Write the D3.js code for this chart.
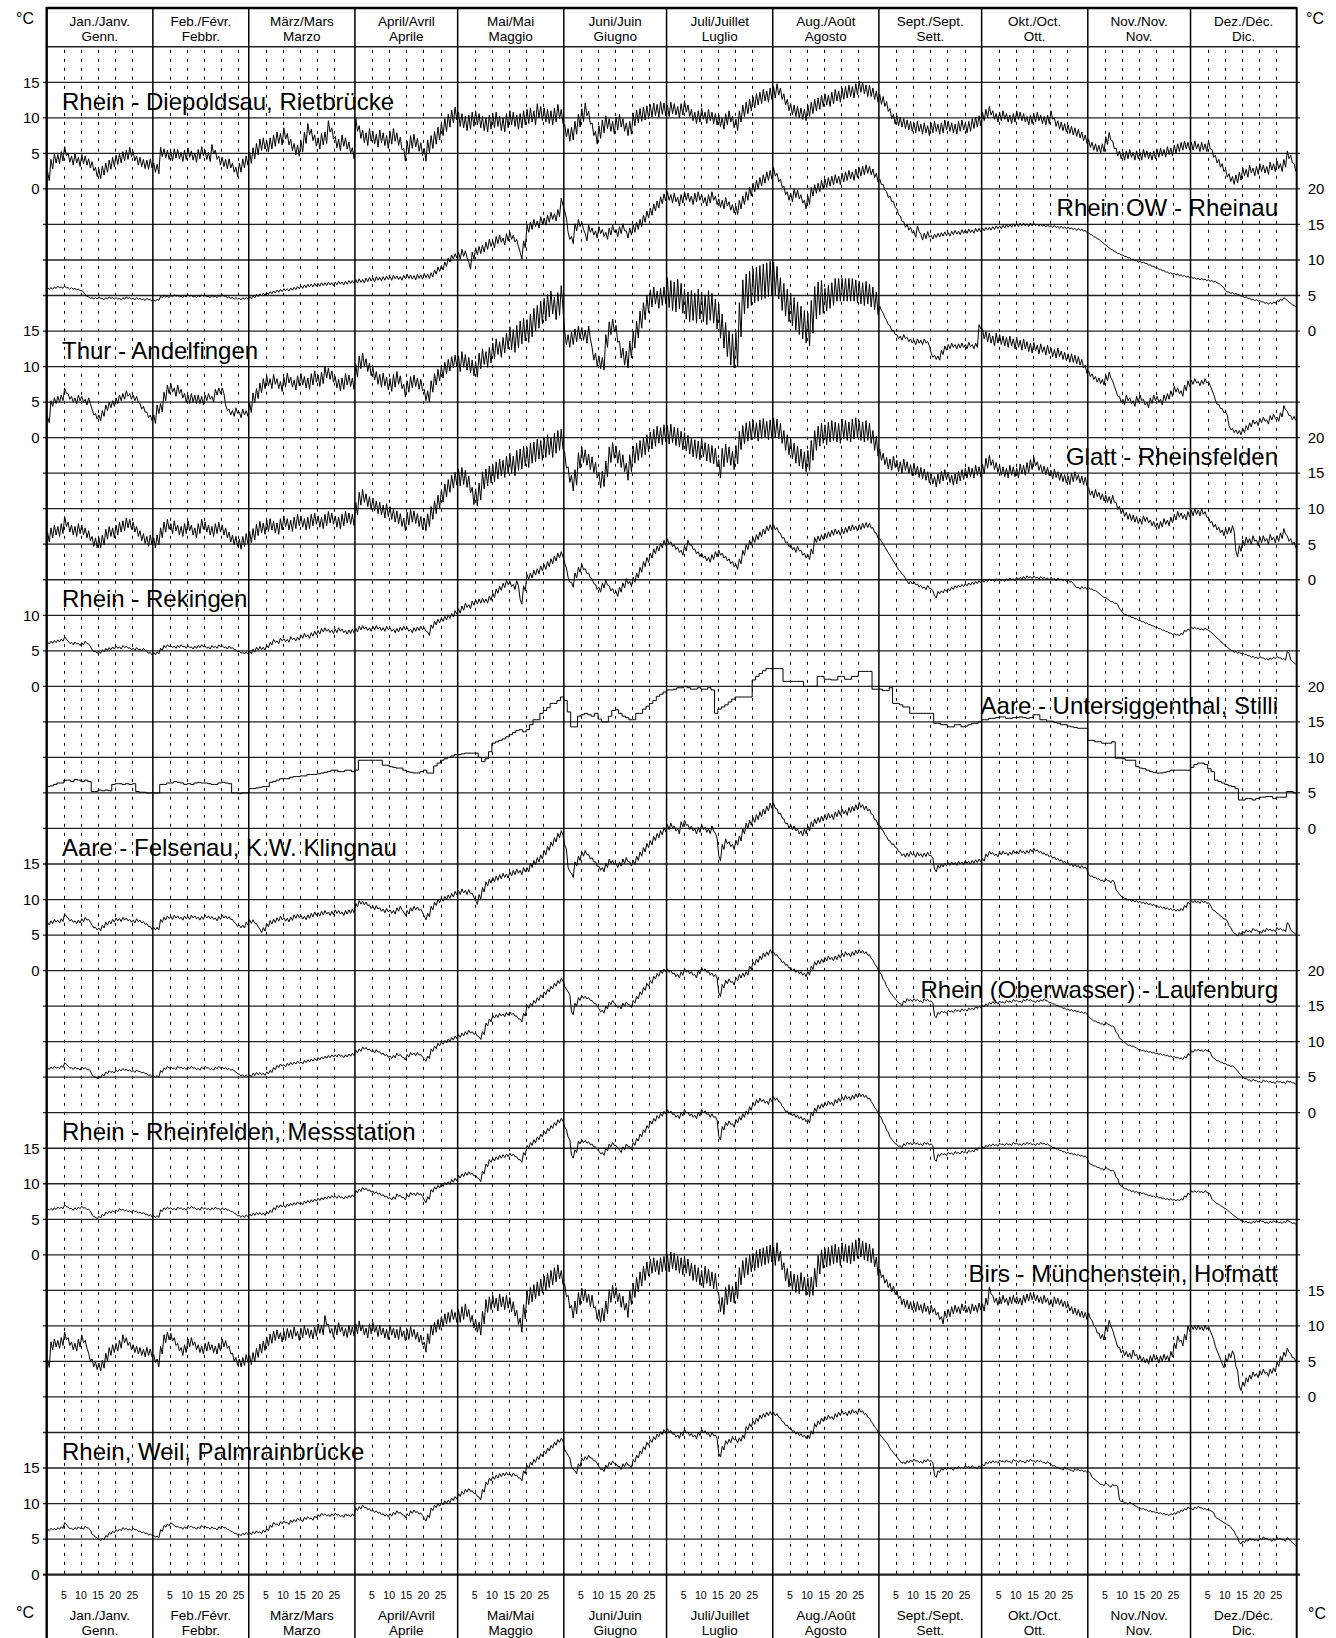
<!DOCTYPE html>
<html><head><meta charset="utf-8">
<script src="https://cdn.jsdelivr.net/npm/d3@7"></script>
<style>
body{margin:0;background:#fff}
svg{display:block}
text{font-family:"Liberation Sans",Arial,Helvetica,sans-serif;fill:#000}
</style>
</head><body>
<svg id="c" width="1336" height="1638"></svg>
<script>
// ---------- categories / labels ----------
const monthNamesTop = ["Jan./Janv.","Feb./Févr.","März/Mars","April/Avril","Mai/Mai","Juni/Juin","Juli/Juillet","Aug./Août","Sept./Sept.","Okt./Oct.","Nov./Nov.","Dez./Déc."];
const monthNamesIt = ["Genn.","Febbr.","Marzo","Aprile","Maggio","Giugno","Luglio","Agosto","Sett.","Ott.","Nov.","Dic."];
const monthDays = [31,28,31,30,31,30,31,31,30,31,30,31];
const dayTicks = [5,10,15,20,25];
const unitLabel = "°C";
const stationNames = [
  "Rhein - Diepoldsau, Rietbrücke","Rhein OW - Rheinau","Thur - Andelfingen","Glatt - Rheinsfelden",
  "Rhein - Rekingen","Aare - Untersiggenthal, Stilli","Aare - Felsenau, K.W. Klingnau",
  "Rhein (Oberwasser) - Laufenburg","Rhein - Rheinfelden, Messstation","Birs - Münchenstein, Hofmatt",
  "Rhein, Weil, Palmrainbrücke"];
const ticksLeft15 = [0,5,10,15];
const ticksRight20 = [0,5,10,15,20];
const ticksLeft10 = [0,5,10];

// ---------- daily mean water temperature (°C), one array per month ----------
const diepoldsau = [
[1.8,3.5,4.3,4.2,4.6,5.3,4.4,4.0,4.3,3.8,4.2,4.0,3.6,3.2,2.4,2.1,2.6,3.0,3.4,3.8,4.1,4.3,4.6,4.8,5.2,4.6,4.0,3.8,3.5,3.4,3.6],
[3.0,2.8,5.2,5.0,4.8,4.6,5.0,4.9,4.5,4.8,5.1,4.7,4.4,4.9,5.3,4.8,4.5,5.6,4.8,4.0,3.8,3.5,3.6,3.0,2.4,3.0,3.6,4.0],
[4.4,5.0,5.6,6.2,6.4,6.0,6.4,6.8,7.2,7.0,7.8,7.0,6.2,5.6,5.4,6.0,7.2,8.4,7.6,6.8,6.4,7.0,7.2,8.8,7.8,6.6,6.2,6.8,6.4,5.8,5.0],
[9.0,8.0,7.4,7.0,7.6,7.2,6.8,7.4,7.0,6.6,7.2,7.6,7.0,6.4,4.8,5.8,6.6,6.8,6.2,5.6,4.8,6.0,6.6,7.2,7.8,8.4,9.0,9.6,10.2,10.6],
[9.8,9.6,9.2,9.4,9.8,10.0,9.6,9.2,9.0,9.4,9.6,9.8,9.2,9.0,9.6,10.0,9.8,9.4,9.6,10.0,10.2,10.4,10.0,11.0,10.6,10.4,10.2,10.0,10.4,10.9,10.2],
[8.2,7.6,7.8,8.6,9.6,10.4,11.2,10.0,8.4,7.2,8.0,8.8,9.4,9.0,8.6,9.2,9.6,9.0,8.4,8.6,9.8,10.2,10.4,10.6,10.8,11.0,11.2,11.0,11.4,11.2],
[11.0,11.4,11.2,10.8,11.2,11.6,11.0,10.4,10.0,10.2,10.6,10.0,10.4,10.0,9.8,9.6,9.2,9.8,10.2,9.4,9.0,10.2,11.0,11.4,11.8,12.2,12.6,12.8,13.2,13.0,13.4],
[13.6,14.0,13.4,12.6,11.8,11.2,11.0,10.8,10.6,10.4,11.0,11.4,11.8,12.0,12.4,12.6,12.4,12.8,13.2,13.0,13.4,13.6,13.8,13.6,14.0,14.4,14.2,13.8,13.8,13.4,13.0],
[12.6,12.3,11.6,10.6,9.8,9.6,9.4,9.2,9.0,8.8,8.6,8.8,8.4,8.6,8.2,8.6,8.8,8.4,8.6,9.0,8.8,8.6,8.4,8.8,9.0,8.6,8.8,9.2,9.4,9.6],
[10.2,10.6,11.0,10.4,10.0,10.2,10.4,10.0,9.8,10.0,10.4,10.2,10.0,9.6,9.8,10.0,10.2,9.8,9.6,9.8,10.4,9.4,9.0,8.8,8.6,8.4,8.2,8.0,7.8,7.4,7.0],
[6.4,6.0,5.8,5.6,5.8,6.8,7.4,6.2,5.2,4.8,4.6,4.8,5.0,4.6,4.8,4.6,5.0,4.8,4.6,4.8,5.0,5.2,5.0,5.4,5.2,5.6,5.8,6.0,6.2,6.0],
[6.0,6.2,5.8,6.0,5.8,6.2,5.0,4.2,3.6,3.0,2.2,1.6,1.2,1.4,1.8,2.4,2.2,2.8,2.4,2.6,3.0,2.8,2.6,3.2,3.0,3.4,3.0,3.6,4.8,4.2,3.0]];
const rheinau = [
[6.0,6.0,6.1,6.2,6.1,6.2,6.0,6.0,5.9,5.8,5.6,5.0,4.7,4.6,4.6,4.7,4.5,4.6,4.7,4.6,4.6,4.5,4.6,4.7,4.6,4.5,4.6,4.5,4.4,4.5,4.3],
[4.3,4.4,4.8,4.9,4.8,4.9,5.0,4.9,4.8,4.9,5.0,4.9,4.8,4.9,5.0,4.9,4.8,4.9,4.8,4.9,5.0,4.8,4.7,4.6,4.6,4.5,4.6,4.6],
[4.7,4.8,5.0,5.1,5.2,5.3,5.4,5.5,5.6,5.7,5.8,5.8,5.9,6.0,6.1,6.2,6.3,6.4,6.4,6.5,6.5,6.6,6.6,6.7,6.6,6.7,6.8,6.7,6.8,6.9,6.9],
[7.0,7.1,7.0,7.2,7.3,7.2,7.4,7.3,7.4,7.5,7.4,7.6,7.5,7.4,7.6,7.7,7.6,7.5,7.7,7.6,7.8,7.7,7.9,8.3,8.7,8.9,9.4,10.0,10.4,10.6],
[10.6,11.0,10.8,9.2,10.6,11.2,11.4,11.6,12.0,12.4,12.2,12.8,13.0,12.6,13.2,13.4,13.0,12.4,10.6,12.2,14.4,14.8,15.2,15.0,15.6,15.4,15.8,16.2,16.0,16.6,18.2],
[16.4,13.4,12.8,14.6,15.2,14.8,13.2,14.4,14.0,13.6,14.2,13.8,13.4,14.0,14.4,13.8,14.2,14.6,13.6,14.0,14.4,14.8,15.2,15.8,16.4,16.8,17.4,17.8,18.4,18.8],
[19.0,18.6,18.8,18.2,18.6,19.0,18.8,18.4,18.8,19.0,18.6,18.2,18.6,19.0,18.4,18.0,17.8,18.2,17.6,17.2,17.0,17.8,18.4,19.0,19.6,20.2,20.6,21.0,21.4,21.8,22.0],
[22.4,21.6,20.8,19.8,19.0,18.8,19.4,19.2,18.6,17.8,18.4,19.6,20.0,20.2,20.6,20.8,21.0,21.2,21.4,21.2,21.6,21.8,22.0,21.8,22.2,22.4,22.6,22.8,22.6,22.2,21.6],
[21.0,20.2,19.2,18.6,17.8,16.8,15.8,15.0,14.6,14.2,13.6,14.4,13.2,13.4,13.6,13.2,13.4,13.5,13.6,13.7,13.6,13.8,13.9,13.8,14.0,14.0,14.1,14.0,14.2,14.2],
[14.3,14.4,14.4,14.5,14.6,14.6,14.7,14.8,14.8,14.9,14.9,15.0,15.0,14.9,15.0,15.0,14.9,14.9,14.8,14.8,14.7,14.7,14.6,14.6,14.5,14.5,14.4,14.3,14.3,14.2,14.0],
[13.7,13.4,13.1,12.8,12.4,12.0,11.6,11.3,11.0,10.8,10.6,10.4,10.2,10.0,9.8,9.7,9.6,9.4,9.2,9.0,8.8,8.6,8.4,8.2,8.1,8.0,7.9,7.8,7.7,7.6],
[7.5,7.4,7.3,7.3,7.2,7.1,7.0,6.9,6.6,6.2,5.6,5.4,5.3,5.2,5.0,4.8,4.7,4.5,4.4,4.3,4.2,4.0,3.9,3.9,4.0,4.2,4.4,4.6,4.2,3.8,3.5]];
const thur = [
[2.5,4.8,5.2,5.4,5.6,6.6,5.8,5.4,5.2,5.6,5.4,5.0,5.2,3.6,3.0,2.8,3.4,4.2,4.6,4.8,5.2,5.6,5.8,6.2,5.8,5.6,5.4,4.4,4.0,3.2,2.8],
[2.6,4.0,4.2,5.8,6.8,7.0,6.4,6.8,6.2,5.6,5.4,5.6,5.4,5.4,5.2,5.6,5.8,5.4,6.4,6.6,6.6,4.2,3.6,3.4,3.8,3.2,3.6,3.4],
[4.2,5.6,6.2,7.0,7.6,8.0,7.6,8.2,7.6,7.2,7.8,8.4,7.8,7.4,8.0,8.2,7.8,7.6,8.2,8.6,8.0,8.4,9.2,9.0,8.6,7.8,7.4,7.6,8.2,8.0,7.6],
[9.4,10.6,11.0,10.2,9.6,9.0,8.4,8.0,8.2,7.6,7.4,8.0,8.4,7.8,6.6,7.2,7.8,8.0,7.6,7.4,6.0,5.8,7.2,8.2,8.8,9.2,9.8,10.2,10.6,10.8],
[10.4,11.0,10.6,10.2,9.8,9.6,10.8,11.4,11.0,11.6,12.2,12.8,12.4,13.0,13.6,14.0,13.6,14.2,14.8,15.2,15.0,15.8,16.6,17.0,17.6,18.0,18.6,19.0,18.2,18.8,19.8],
[14.0,13.6,14.0,14.4,14.8,14.6,14.2,14.8,11.8,11.0,10.6,10.4,13.6,15.4,15.8,14.6,12.4,11.4,11.0,12.4,13.8,15.2,16.6,17.8,18.8,19.6,20.0,19.4,19.8,20.0],
[20.4,20.0,19.8,20.2,19.6,18.8,18.4,18.6,18.2,18.8,18.4,18.0,18.6,18.2,17.4,16.4,15.0,13.8,12.6,12.2,12.4,16.6,19.8,20.6,21.0,21.4,21.6,21.8,22.0,22.2,22.4],
[22.4,21.8,20.2,19.4,18.6,18.0,17.4,16.8,16.2,15.6,15.2,17.0,19.0,19.6,19.8,19.4,19.8,20.2,20.8,20.8,20.8,20.8,20.8,20.8,20.6,20.4,20.2,20.4,20.0,19.6,18.9],
[18.2,17.2,16.2,15.4,14.8,14.2,14.0,14.2,13.8,13.6,13.4,13.6,13.4,13.6,13.2,11.6,11.3,11.2,12.0,12.6,12.8,13.0,12.8,12.9,13.0,12.8,13.1,12.8,13.0,15.6],
[14.6,14.2,14.0,13.6,14.0,13.8,13.6,13.4,13.6,13.2,13.4,13.0,13.2,12.8,12.6,12.8,12.4,12.6,12.2,12.4,12.0,11.8,12.0,11.6,11.4,11.2,11.2,11.0,10.8,10.4,9.6],
[9.0,8.6,8.2,8.0,7.8,8.4,8.8,7.6,6.2,5.4,5.0,5.6,5.2,4.8,5.4,5.6,5.0,4.6,5.2,5.6,5.4,5.0,5.6,5.8,6.2,6.8,6.6,6.2,7.0,7.6],
[7.8,8.0,7.6,7.8,8.0,7.6,6.4,5.0,4.4,3.8,3.4,1.4,1.0,0.8,0.7,1.0,1.4,1.8,2.2,2.0,2.4,2.6,2.2,2.8,3.0,2.6,3.2,4.2,3.4,2.8,2.7]];
const glatt = [
[6.0,6.6,7.0,6.8,7.2,8.2,7.4,7.0,6.8,7.2,7.0,6.6,6.2,5.4,5.2,5.2,5.6,6.4,6.8,6.6,7.0,7.4,7.6,8.0,7.8,7.4,6.8,6.2,5.8,5.4,5.6],
[5.2,5.6,6.6,7.4,7.8,7.2,7.6,7.0,6.8,7.2,7.6,7.0,6.6,7.2,7.8,7.4,7.0,6.8,7.2,7.4,7.0,6.6,6.0,5.6,5.4,5.0,5.4,5.8],
[6.0,6.4,7.0,7.4,7.2,7.6,7.8,7.4,7.2,7.8,8.2,7.8,7.6,8.0,8.4,8.2,7.8,8.0,8.4,8.6,8.2,8.0,8.4,8.8,8.6,8.2,8.0,8.4,8.8,8.6,8.4],
[10.0,11.4,11.8,11.2,10.8,10.6,10.2,10.0,9.6,9.8,9.4,9.0,8.8,8.4,7.8,8.6,9.0,8.8,8.4,8.0,7.8,8.4,9.4,10.2,11.0,11.8,12.6,13.2,13.8,14.2],
[14.4,14.6,14.2,13.4,11.8,11.6,12.4,14.0,14.4,14.8,15.0,15.4,15.8,15.6,16.2,16.4,16.0,16.8,17.0,17.4,17.2,17.8,18.0,18.4,18.2,18.6,19.0,18.6,19.2,19.6,19.8],
[16.8,14.8,13.6,14.4,16.8,17.6,17.2,16.6,16.2,15.4,14.0,14.2,15.6,17.6,18.2,17.6,17.0,16.4,15.2,16.4,17.6,18.0,18.4,18.8,19.2,19.6,20.0,20.4,20.2,20.6],
[20.4,20.6,20.2,20.0,19.6,19.4,19.0,18.6,18.4,18.2,18.6,18.0,17.8,17.6,17.2,15.6,17.2,17.8,17.4,16.8,17.6,19.6,20.4,20.8,21.0,21.2,20.8,21.2,21.4,21.0,21.2],
[21.4,21.2,20.6,19.6,19.0,18.4,17.8,17.4,17.0,16.6,16.8,18.2,19.6,20.2,20.6,20.4,20.8,21.0,20.8,20.6,21.2,21.0,20.8,21.2,21.4,21.0,20.8,21.0,20.6,19.6,18.8],
[17.6,17.0,16.4,16.2,16.6,16.0,15.8,16.2,15.8,15.4,15.6,15.2,15.0,14.8,14.4,14.2,13.8,14.2,14.6,14.8,14.4,14.0,14.2,14.6,14.8,15.0,15.2,15.0,15.4,15.2],
[15.6,16.4,16.8,16.2,15.8,15.4,15.2,15.0,15.4,15.2,15.0,15.6,15.4,15.8,16.2,16.6,16.0,15.6,15.4,15.2,14.8,15.0,14.6,14.4,14.2,14.0,14.4,14.6,14.2,14.0,13.8],
[12.4,12.0,12.2,11.8,11.6,11.4,11.2,11.4,10.4,9.8,9.4,9.0,8.8,8.6,8.4,8.2,8.6,8.4,8.0,7.8,7.6,7.8,8.2,8.0,8.4,8.8,9.2,9.0,8.8,9.2],
[9.4,9.6,9.4,9.6,9.2,8.4,7.8,7.4,7.0,6.6,6.8,7.0,7.2,3.6,4.4,5.2,5.6,5.4,5.8,5.2,5.6,5.8,5.4,6.0,5.6,5.8,6.2,6.8,5.8,5.4,4.9]];
const rekingen = [
[6.1,6.2,6.3,6.4,6.5,6.8,6.2,6.0,6.1,5.9,6.0,6.2,5.8,5.0,4.8,4.8,5.0,5.2,5.3,5.4,5.5,5.4,5.6,5.5,5.3,5.2,5.3,5.1,5.2,4.8,4.6],
[4.6,4.7,5.2,5.6,5.7,5.6,5.5,5.6,5.7,5.5,5.6,5.4,5.5,5.6,5.7,5.5,5.4,5.6,5.5,5.7,5.6,5.4,5.5,5.3,5.0,4.8,4.7,4.7],
[4.8,5.0,5.3,5.4,5.3,5.6,6.0,6.4,6.2,6.6,6.5,6.4,6.8,6.6,6.7,7.0,7.2,7.0,7.3,7.5,7.6,7.9,8.0,7.8,7.7,7.8,8.0,7.8,7.6,7.7,7.8],
[7.9,8.2,8.3,8.1,8.0,8.2,8.3,8.1,8.0,8.2,8.0,7.8,7.9,8.1,8.2,8.0,7.8,8.0,8.1,8.2,8.0,7.4,8.4,8.9,9.2,9.4,9.6,9.8,10.0,10.4],
[10.6,11.0,11.4,11.2,11.7,11.9,12.0,12.1,12.0,12.4,12.8,13.4,13.8,14.2,14.6,14.4,14.0,14.5,11.9,13.8,15.4,15.6,16.0,16.2,16.6,16.8,17.2,17.6,18.0,18.4,18.6],
[17.0,15.0,14.3,15.6,16.4,16.8,16.2,15.6,14.8,14.0,13.6,14.2,14.6,13.8,13.4,13.0,13.6,14.2,14.8,14.4,15.0,15.6,16.4,17.2,17.8,18.4,19.0,19.4,19.8,20.2],
[20.4,20.0,19.6,19.2,18.8,19.4,20.2,19.6,19.0,18.6,18.4,18.0,17.8,18.2,18.6,18.8,18.4,18.0,17.6,17.2,16.8,17.6,18.8,19.6,20.2,20.6,21.0,21.4,21.8,22.2,22.4],
[22.4,22.0,21.2,20.6,20.0,19.6,19.2,19.4,18.8,18.4,18.2,19.0,20.6,20.8,21.0,21.2,21.4,21.6,21.8,21.6,21.8,22.0,22.2,22.4,22.2,22.4,22.6,22.7,22.6,22.0,21.2],
[20.6,19.8,19.0,18.2,17.4,16.6,16.0,15.4,14.6,14.6,14.5,14.2,14.0,13.8,14.0,13.6,12.6,13.2,13.3,13.5,13.6,13.8,14.0,14.1,14.2,14.3,14.4,14.5,14.6,14.7],
[14.8,14.9,15.0,14.9,15.0,15.0,14.9,15.0,15.1,15.0,15.2,15.2,15.3,15.4,15.3,15.4,15.2,15.3,15.2,15.1,15.2,15.0,15.1,15.0,14.9,14.8,14.6,14.0,13.8,13.9,13.8],
[13.8,13.6,13.4,13.0,12.6,12.4,12.0,11.8,11.6,10.8,10.2,10.0,9.8,9.6,9.4,9.2,9.0,8.8,8.6,8.4,8.2,8.0,7.8,7.6,7.4,7.3,7.2,7.4,7.8,8.0],
[8.2,8.2,8.1,8.0,8.1,7.8,7.4,6.9,6.5,6.0,5.6,5.2,4.9,4.8,4.7,4.6,4.4,4.2,4.1,4.0,4.1,3.9,3.8,3.9,4.0,4.1,3.9,3.8,4.8,3.6,3.2]];
const stilli = [
[5.9,6.0,6.2,6.4,6.4,6.8,6.8,6.6,6.9,6.8,6.6,6.8,6.6,5.2,5.2,5.4,5.3,5.4,5.3,6.2,6.3,6.3,6.2,6.3,6.2,6.3,5.2,5.1,5.1,5.0,5.0],
[5.0,5.0,6.2,6.2,6.4,6.4,6.6,6.5,6.4,6.2,6.3,6.2,6.4,6.5,6.4,6.4,6.3,6.2,6.2,6.4,6.5,6.4,6.3,5.0,5.0,4.9,5.0,5.0],
[5.6,5.6,5.7,5.8,5.9,5.9,6.5,6.6,6.8,7.0,7.0,7.0,7.2,7.3,7.3,7.4,7.4,7.6,7.6,7.6,7.7,7.8,7.9,8.0,8.2,8.2,8.0,8.0,8.2,8.2,8.0],
[8.2,9.6,9.6,9.6,9.6,9.6,9.6,9.6,8.9,8.9,8.7,8.6,8.5,8.5,8.2,8.0,7.9,7.8,7.8,8.0,8.2,7.8,7.8,8.8,9.2,9.6,9.8,10.0,10.2,10.4],
[10.4,10.5,10.6,10.6,10.6,10.6,10.0,9.4,9.8,10.8,12.0,12.2,12.4,12.6,12.9,13.2,13.5,13.8,13.9,13.6,13.9,14.6,15.3,15.3,16.2,16.6,17.0,17.6,17.6,18.0,18.5],
[18.0,16.4,14.3,14.3,15.8,16.0,16.2,16.0,15.8,16.2,15.4,15.0,15.0,15.8,16.6,16.7,16.2,15.8,15.6,15.3,15.3,16.2,16.2,16.8,17.2,17.6,18.0,18.6,18.9,19.2],
[19.5,19.5,19.6,19.8,19.8,20.0,19.8,19.6,19.6,19.8,19.6,19.6,19.8,19.5,16.2,16.8,17.1,17.4,17.8,18.2,18.5,18.5,18.5,18.5,18.5,20.9,21.4,21.8,22.2,22.5,22.5],
[22.5,22.5,22.5,20.7,20.7,20.7,20.7,20.7,20.7,20.0,20.0,20.0,20.0,21.4,21.4,21.0,21.0,20.9,20.9,21.4,21.4,21.0,21.0,21.4,21.4,22.1,22.1,22.1,22.1,19.6,19.6],
[19.6,19.4,19.4,19.8,17.6,17.6,17.4,17.1,17.1,16.2,16.2,16.2,16.2,16.2,16.2,16.2,14.8,14.8,14.6,14.6,14.3,14.3,14.6,14.6,14.3,14.4,14.6,14.8,14.8,15.0],
[15.3,15.3,15.5,15.5,15.6,15.7,15.7,15.5,15.5,15.6,15.6,15.7,15.6,15.5,15.6,16.0,16.0,15.3,15.3,15.1,15.1,14.9,14.8,14.6,14.6,14.4,14.3,14.2,14.1,14.1,14.1],
[12.4,12.4,12.2,12.2,12.0,12.0,12.0,12.2,9.9,9.9,9.8,9.6,9.6,9.6,8.7,8.5,8.4,8.2,8.0,7.9,7.8,7.8,7.9,8.0,8.2,8.2,8.2,8.2,8.2,8.2],
[8.6,9.0,9.2,9.2,9.0,8.4,8.0,6.8,6.6,6.4,6.2,6.0,5.9,5.6,4.0,4.0,4.2,4.2,4.0,4.2,4.4,4.4,4.5,4.5,4.2,4.4,4.4,4.4,5.2,5.2,5.0]];
const felsenau = [
[6.6,6.8,7.0,6.9,7.1,7.8,7.2,7.0,6.8,6.9,7.1,7.3,7.0,6.2,5.9,5.8,6.2,6.6,6.8,7.0,7.2,7.1,7.3,7.2,7.0,6.9,7.1,6.9,6.7,6.4,6.0],
[5.9,5.9,7.0,7.3,7.5,7.4,7.6,7.5,7.3,7.5,7.4,7.6,7.5,7.3,7.4,7.6,7.5,7.4,7.2,7.4,7.6,7.5,7.4,7.0,6.4,6.2,6.2,6.6],
[6.9,6.9,6.4,5.6,5.8,6.4,6.8,7.0,7.2,7.4,7.2,7.1,7.3,7.6,7.7,7.5,7.4,7.6,7.8,8.0,7.9,8.1,8.2,8.0,8.1,8.3,8.2,8.0,8.2,8.3,8.4],
[9.2,9.6,9.5,9.4,9.0,8.8,8.9,8.6,8.4,8.5,8.3,8.2,8.6,8.8,8.0,8.2,8.6,8.8,8.7,8.4,7.4,7.8,8.8,9.4,9.8,10.0,10.2,10.4,10.6,10.9],
[11.0,11.2,11.0,11.1,10.6,9.6,10.4,11.4,12.2,12.6,12.8,13.0,13.2,13.4,13.3,13.6,13.8,14.0,13.8,14.2,14.2,14.8,15.2,15.6,16.0,16.6,17.2,17.8,18.4,19.0,19.4],
[17.4,14.2,13.4,15.0,15.8,16.4,16.6,16.0,15.6,15.0,14.4,14.2,14.8,15.4,15.2,14.8,15.0,15.4,15.6,15.0,15.2,15.8,16.4,17.0,17.6,18.0,18.6,19.0,19.4,19.8],
[20.2,20.4,20.0,19.6,20.6,20.8,20.2,20.0,19.6,19.8,20.2,19.8,19.6,20.0,19.0,15.8,17.4,18.2,17.8,17.4,18.0,18.6,19.6,20.4,20.8,21.2,21.6,22.0,22.4,22.8,23.2],
[23.2,22.4,21.8,21.0,20.4,20.2,20.0,19.6,19.3,19.6,20.0,20.6,21.0,21.2,21.4,21.6,21.8,21.6,22.0,22.2,22.4,22.2,22.6,22.8,23.0,23.3,23.0,22.8,22.4,21.6,20.8],
[20.2,19.4,18.6,18.0,17.6,17.0,16.4,16.2,16.3,16.5,16.2,16.4,16.2,16.3,16.4,16.0,14.1,14.6,14.8,14.9,15.0,15.1,15.0,15.2,15.1,15.3,15.2,15.3,15.4,15.5],
[15.6,16.2,16.6,16.4,16.2,16.5,16.6,16.4,16.5,16.7,16.6,16.8,16.6,16.7,16.9,17.0,16.8,16.6,16.4,16.2,16.0,15.8,15.6,15.4,15.2,15.0,14.8,14.8,14.6,14.6,14.4],
[13.4,13.2,13.0,12.8,12.6,12.8,12.5,12.6,11.2,10.6,10.2,10.0,9.9,9.8,9.7,9.6,9.5,9.4,9.3,9.2,9.0,8.9,8.8,8.7,8.6,8.5,8.5,8.6,9.0,9.5],
[9.7,9.7,9.6,9.7,9.6,9.4,8.6,8.2,7.8,7.4,7.1,6.2,5.4,5.0,5.2,5.4,5.6,5.5,5.8,5.6,5.4,5.6,5.8,5.7,5.6,5.9,5.8,5.6,6.6,5.6,5.2]];
const laufenburg = [
[6.2,6.3,6.4,6.3,6.5,6.9,6.4,6.2,6.3,6.1,6.3,6.2,6.0,5.2,4.9,5.0,5.3,5.6,5.8,5.7,5.9,6.0,6.1,6.0,5.9,5.8,5.9,5.7,5.6,5.4,5.2],
[5.1,5.1,5.8,6.2,6.4,6.3,6.2,6.4,6.3,6.2,6.3,6.4,6.2,6.1,6.3,6.4,6.2,6.1,6.3,6.4,6.3,6.2,6.1,6.0,5.6,5.3,5.2,5.2],
[5.2,5.4,5.5,5.5,5.4,5.6,5.8,6.2,6.5,6.7,6.6,6.8,6.9,7.0,7.1,7.0,7.2,7.3,7.4,7.5,7.6,7.7,7.8,7.9,8.0,8.0,8.1,7.9,8.0,8.1,8.2],
[8.6,8.8,9.1,9.0,8.8,8.6,8.7,8.4,8.2,8.0,7.8,7.9,8.2,8.0,7.6,8.0,8.3,8.2,8.3,8.0,7.4,7.8,8.8,9.2,9.6,9.8,10.0,10.2,10.4,10.6],
[10.8,11.0,11.2,11.4,11.2,11.0,10.5,11.2,12.4,13.0,13.5,13.6,13.8,13.7,13.9,14.0,13.8,13.4,13.0,13.8,14.9,15.2,15.6,16.0,16.4,16.8,17.2,17.6,18.0,18.4,18.7],
[17.6,16.8,14.0,15.2,16.0,16.3,16.2,16.0,15.6,15.2,14.4,14.2,14.8,15.4,15.6,15.0,14.8,15.2,15.4,15.0,15.6,16.2,16.8,17.4,18.0,18.4,19.0,19.4,19.8,20.0],
[20.0,19.8,19.4,19.2,19.6,20.0,19.8,19.6,19.2,19.8,20.2,20.0,19.6,19.4,19.2,16.6,17.8,18.4,18.6,18.2,18.8,19.2,19.4,19.6,20.4,21.0,21.4,21.8,22.2,22.4,22.7],
[22.4,22.0,21.4,21.0,20.6,20.2,20.0,19.8,19.6,19.4,19.6,20.4,21.0,21.2,21.4,21.6,21.8,21.6,21.8,22.0,22.2,22.4,22.2,22.4,22.6,22.7,22.6,22.4,22.0,21.2,20.4],
[19.6,18.6,17.6,16.8,16.2,15.6,15.2,15.6,15.9,15.8,15.9,15.8,15.6,15.9,15.8,15.6,13.5,14.0,14.2,14.1,14.3,14.2,14.4,14.3,14.5,14.4,14.6,14.6,14.8,14.9],
[15.0,15.2,15.4,15.5,15.4,15.6,15.5,15.7,15.6,15.8,15.7,15.6,15.8,15.9,15.8,15.6,15.7,15.8,15.9,15.6,15.4,15.2,15.0,14.8,14.6,14.5,14.4,14.3,14.2,14.1,14.0],
[13.4,13.0,12.8,12.6,12.4,12.6,12.3,12.1,11.2,10.4,10.0,9.6,9.4,9.3,9.0,8.8,8.7,8.6,8.5,8.4,8.3,8.2,8.1,8.0,7.9,7.8,7.7,7.6,7.8,8.2],
[8.6,8.8,8.8,8.7,8.8,8.6,7.8,7.4,7.2,7.0,6.8,6.6,6.5,6.0,5.4,4.9,4.7,4.5,4.6,4.4,4.3,4.5,4.4,4.3,4.2,4.4,4.3,4.2,4.4,4.3,4.1]];
const rheinfelden = [
[6.4,6.4,6.5,6.6,6.6,6.9,6.6,6.4,6.5,6.6,6.7,6.5,6.3,5.5,5.2,5.3,5.6,5.9,6.0,6.1,6.2,6.4,6.3,6.2,6.1,6.2,6.0,5.9,5.8,5.6,5.5],
[5.4,5.4,6.2,6.5,6.6,6.5,6.4,6.6,6.5,6.4,6.6,6.7,6.5,6.4,6.6,6.5,6.4,6.5,6.6,6.4,6.5,6.4,6.2,6.0,5.6,5.4,5.4,5.5],
[5.6,5.7,5.8,5.8,5.7,5.9,6.1,6.5,6.8,6.9,6.8,7.0,7.1,7.2,7.3,7.2,7.4,7.5,7.6,7.7,7.8,7.9,8.0,8.1,8.2,8.1,8.2,8.0,8.1,8.2,8.3],
[8.9,9.1,9.3,9.2,9.0,8.8,8.7,8.5,8.3,8.1,7.9,8.0,8.4,8.2,7.9,8.3,8.6,8.5,8.6,8.4,7.5,8.0,9.0,9.4,9.6,9.8,10.0,10.1,10.4,10.6],
[11.0,11.2,11.4,11.5,11.3,11.0,10.5,11.6,12.6,13.2,13.4,13.6,13.8,13.9,14.0,14.1,14.0,13.6,13.2,14.2,15.2,15.6,16.0,16.4,16.8,17.2,17.6,18.0,18.4,18.8,19.0],
[17.8,16.4,13.8,14.6,15.8,16.0,15.9,15.7,15.4,15.0,14.4,14.2,14.8,15.4,15.6,15.2,14.6,15.0,15.4,15.0,15.6,16.2,16.8,17.4,18.0,18.6,19.0,19.4,19.7,20.0],
[20.2,20.0,19.6,19.4,19.8,20.2,19.8,19.6,19.4,19.8,20.2,20.0,19.6,19.6,19.2,16.4,17.8,18.4,18.6,18.2,18.8,19.2,19.6,20.0,20.6,21.2,21.6,21.8,21.6,21.4,21.8],
[22.0,21.8,21.2,20.4,20.0,19.8,19.6,19.4,19.2,19.0,18.8,19.8,20.4,20.8,21.0,21.2,21.4,21.2,21.6,21.8,22.0,22.2,22.0,22.2,22.4,22.5,22.4,22.2,21.8,21.0,20.2],
[19.4,18.4,17.4,16.4,15.8,15.4,15.2,15.5,15.7,15.6,15.7,15.6,15.5,15.7,15.6,15.5,13.3,14.0,14.2,14.1,14.3,14.2,14.4,14.3,14.5,14.4,14.6,14.6,14.8,15.0],
[15.1,15.3,15.4,15.5,15.4,15.6,15.5,15.6,15.5,15.7,15.6,15.5,15.6,15.7,15.6,15.5,15.6,15.7,15.6,15.5,15.2,15.0,14.8,14.6,14.4,14.3,14.2,14.1,14.0,13.9,13.8],
[12.9,12.6,12.4,12.2,12.0,12.2,11.9,11.8,10.8,9.8,9.4,9.2,9.0,8.9,8.8,8.7,8.6,8.4,8.3,8.2,8.1,8.0,7.9,7.8,7.8,7.7,7.7,7.8,8.2,8.6],
[8.9,8.9,8.9,8.8,8.9,8.6,7.7,7.3,7.0,6.7,6.4,6.0,5.6,5.2,4.9,4.7,4.6,4.5,4.6,4.7,4.8,4.6,4.5,4.6,4.7,4.6,4.5,4.6,4.8,4.5,4.4]];
const birs = [
[4.7,7.2,7.6,7.4,7.8,8.6,7.8,7.2,7.0,7.6,8.2,7.4,5.6,4.8,4.4,4.2,4.6,5.6,6.4,6.8,7.0,7.4,8.2,7.8,7.2,6.8,6.6,6.4,6.2,6.4,6.2],
[5.4,4.8,6.6,8.2,8.6,8.4,7.8,7.0,6.4,6.8,7.6,7.8,7.2,6.8,6.6,7.0,7.2,6.8,6.6,7.0,7.6,7.4,6.6,5.6,5.0,4.8,5.0,5.4],
[5.2,5.6,6.2,6.8,7.2,7.8,8.2,8.6,8.8,8.4,8.6,9.0,8.8,9.2,8.6,9.0,9.4,9.0,8.8,9.2,9.6,9.4,10.8,9.6,9.0,9.4,9.8,9.2,9.0,9.4,9.2],
[9.6,10.0,9.4,9.0,9.6,9.8,9.2,9.4,9.0,8.8,9.4,9.0,8.8,9.2,8.6,8.8,9.2,8.8,8.4,8.0,7.0,8.2,9.4,9.8,10.2,10.6,11.0,11.2,11.6,11.2],
[11.4,11.8,12.2,11.4,10.6,10.0,9.6,11.2,12.8,13.2,13.4,13.0,13.6,13.2,13.4,13.0,12.4,11.2,10.1,12.0,14.0,14.4,14.8,15.2,15.6,16.0,16.4,16.8,17.2,17.6,16.8],
[15.0,13.4,12.0,12.6,13.8,14.4,14.2,13.6,13.4,11.8,11.4,11.6,12.6,14.2,14.8,14.4,13.6,13.2,12.2,14.0,15.0,15.8,16.6,17.4,18.0,18.4,18.6,18.2,18.6,18.8],
[18.8,19.2,19.0,18.6,18.4,18.6,18.2,17.6,17.4,17.0,16.6,17.2,16.8,16.4,16.2,13.2,12.8,14.2,14.6,14.4,15.0,17.0,18.0,18.4,18.8,19.0,19.4,19.6,19.8,20.0,20.2],
[19.8,20.4,19.2,17.6,16.8,16.4,16.0,15.8,16.2,15.6,15.4,15.6,16.8,18.6,19.4,19.6,19.8,20.0,20.2,19.8,20.4,20.2,20.0,20.4,20.8,21.0,20.6,20.4,20.2,19.6,18.4],
[17.4,16.6,16.0,15.4,15.0,14.4,13.6,13.2,13.0,12.8,12.6,12.8,12.4,12.6,12.2,12.4,12.0,11.4,10.8,11.6,11.8,12.2,12.4,12.2,12.6,12.4,12.2,12.6,12.4,12.7],
[12.6,13.4,15.0,13.8,13.4,13.6,13.8,13.4,13.6,13.8,13.6,13.4,13.8,14.0,14.2,14.0,13.8,13.6,13.8,13.4,13.2,13.6,13.4,13.2,13.0,12.6,12.2,12.0,11.8,11.6,11.4],
[11.4,10.4,9.4,8.6,8.4,9.6,10.4,9.0,7.4,6.6,6.2,6.0,5.8,6.2,5.6,5.4,5.2,5.0,5.4,5.6,5.2,5.4,5.6,5.4,6.0,7.2,8.2,7.6,8.4,9.6],
[9.8,9.7,9.8,9.6,9.8,9.6,8.4,6.8,5.6,4.4,5.2,5.8,6.2,4.0,1.2,1.8,2.4,2.8,3.2,3.0,3.4,3.6,3.2,3.6,3.8,4.6,5.4,6.0,6.6,5.8,5.2]];
const weil = [
[6.3,6.4,6.4,6.5,6.6,7.2,6.6,6.4,6.5,6.6,6.5,6.7,6.4,5.6,5.2,4.9,5.0,5.4,5.8,6.0,6.2,6.3,6.5,6.4,6.3,6.4,6.2,6.0,5.9,5.7,5.6],
[5.4,5.3,6.2,6.8,7.0,7.2,6.8,6.7,6.5,6.6,6.8,6.7,6.5,6.6,6.8,6.7,6.5,6.6,6.4,6.6,6.7,6.5,6.2,5.9,5.7,5.6,5.7,5.8],
[5.8,5.9,6.0,5.9,6.1,6.3,6.8,7.2,7.0,7.3,7.4,7.2,7.5,7.6,7.8,7.6,7.9,8.0,7.8,8.1,8.3,8.5,8.4,8.3,8.4,8.5,8.3,8.2,8.4,8.3,8.4],
[9.2,9.4,9.6,9.3,9.1,8.9,8.8,8.6,8.4,8.3,8.4,8.6,8.8,8.6,8.2,8.4,8.8,8.9,8.7,8.5,7.7,8.2,9.2,9.6,9.8,10.0,10.2,10.3,10.6,10.8],
[11.2,11.5,11.8,11.9,11.6,11.2,10.7,11.8,12.8,13.4,13.6,13.8,14.0,14.1,14.2,14.0,14.1,13.8,13.4,14.4,15.2,15.6,16.0,16.4,16.8,17.2,17.6,18.0,18.4,18.8,19.0],
[17.4,16.6,15.0,14.4,15.4,16.2,16.4,16.6,16.2,15.8,15.0,14.7,15.2,15.6,15.8,15.4,15.0,15.4,15.6,15.2,16.0,16.6,17.2,17.8,18.4,18.8,19.2,19.6,19.9,20.2],
[20.3,20.0,19.6,19.4,19.8,20.2,19.8,19.6,19.4,19.8,20.2,20.0,19.6,19.8,19.4,16.8,17.8,18.6,18.8,19.2,18.8,19.0,19.4,20.6,21.0,21.4,21.8,22.2,22.4,22.6,22.7],
[22.6,22.4,21.8,21.2,20.8,20.4,20.0,19.8,19.6,19.4,19.4,20.0,21.0,21.4,21.8,22.0,22.2,22.0,22.4,22.6,22.8,22.6,22.8,23.0,22.8,23.1,22.8,22.4,21.8,21.0,20.3],
[19.6,19.0,18.4,17.6,17.0,16.4,15.8,15.7,15.9,16.0,16.1,15.9,15.8,16.0,16.1,15.9,13.8,14.5,14.8,14.9,15.0,14.8,15.0,15.1,15.0,15.2,15.1,15.2,15.0,15.2],
[15.4,15.7,15.8,15.9,15.8,16.0,15.9,16.0,15.8,16.1,15.9,16.0,15.8,16.0,16.1,15.9,16.0,15.9,15.7,15.8,15.4,15.2,15.0,14.8,15.0,14.8,14.6,14.8,14.7,14.6,14.5],
[14.4,13.6,13.2,12.8,12.6,12.8,12.4,12.6,12.5,10.4,10.2,10.0,10.1,9.8,9.5,9.3,9.2,9.0,8.9,8.8,8.7,8.6,8.5,8.4,8.5,8.6,8.8,9.0,9.2,9.4],
[9.2,9.4,9.5,9.3,9.2,9.1,8.8,8.0,7.7,7.4,7.1,6.8,6.2,5.4,4.4,4.6,4.8,5.0,4.9,4.8,5.0,5.2,5.0,4.8,4.9,5.1,5.0,4.8,5.1,4.6,4.2]];

// half-diurnal range (°C), per half month (1st-15th, 16th-end)
const diepoldsauSwing = [0.65,0.65,0.65,0.65,0.8,0.8,0.9,0.9,1.0,1.0,0.9,0.9,0.8,0.8,0.8,0.8,0.7,0.7,0.6,0.6,0.55,0.55,0.55,0.55];
const rheinauSwing = [0.1,0.1,0.1,0.1,0.15,0.2,0.25,0.3,0.5,0.5,0.5,0.5,0.6,0.6,0.6,0.6,0.4,0.25,0.2,0.15,0.1,0.1,0.1,0.1];
const thurSwing = [0.4,0.4,0.6,0.4,0.7,0.8,0.9,0.8,1.1,1.6,0.9,1.2,2.1,2.4,2.3,1.6,0.3,0.3,0.7,0.6,0.4,0.4,0.3,0.3];
const glattSwing = [0.7,0.7,0.7,0.7,0.8,0.8,0.9,0.9,1.2,1.4,1.1,1.2,1.3,1.3,1.4,1.4,0.8,0.7,0.7,0.6,0.5,0.4,0.4,0.4];
const rekingenSwing = [0.15,0.15,0.15,0.15,0.2,0.25,0.25,0.25,0.3,0.35,0.35,0.35,0.35,0.35,0.35,0.35,0.2,0.15,0.15,0.15,0.1,0.1,0.1,0.1];
const stilliSwing = [0,0,0,0,0,0,0,0,0,0,0,0,0,0,0,0,0,0,0,0,0,0,0,0];
const felsenauSwing = [0.2,0.2,0.2,0.2,0.25,0.25,0.25,0.25,0.3,0.3,0.3,0.3,0.35,0.35,0.35,0.35,0.25,0.2,0.2,0.2,0.15,0.15,0.15,0.15];
const laufenburgSwing = [0.12,0.12,0.12,0.12,0.15,0.15,0.18,0.18,0.2,0.2,0.2,0.2,0.25,0.25,0.25,0.25,0.15,0.12,0.12,0.12,0.1,0.1,0.1,0.1];
const rheinfeldenSwing = [0.12,0.12,0.12,0.12,0.15,0.15,0.18,0.18,0.2,0.2,0.2,0.2,0.25,0.25,0.25,0.25,0.15,0.12,0.12,0.12,0.1,0.1,0.1,0.1];
const birsSwing = [0.55,0.55,0.55,0.55,0.65,0.65,0.7,0.7,0.9,1.0,0.9,1.0,1.2,1.2,1.3,1.3,0.6,0.5,0.5,0.5,0.4,0.4,0.3,0.3];
const weilSwing = [0.12,0.12,0.12,0.12,0.15,0.15,0.18,0.18,0.2,0.2,0.2,0.2,0.25,0.25,0.25,0.25,0.15,0.12,0.12,0.12,0.1,0.1,0.1,0.1];

// ---------- layout (grid-row of zero line, axis side, label row) ----------
const stations = [
  {data: diepoldsau, swing: diepoldsauSwing, zero: 4, side: "left", ticks: ticksLeft15, labelRow: 2},
  {data: rheinau, swing: rheinauSwing, zero: 8, side: "right", ticks: ticksRight20, labelRow: 5},
  {data: thur, swing: thurSwing, zero: 11, side: "left", ticks: ticksLeft15, labelRow: 9},
  {data: glatt, swing: glattSwing, zero: 15, side: "right", ticks: ticksRight20, labelRow: 12},
  {data: rekingen, swing: rekingenSwing, zero: 18, side: "left", ticks: ticksLeft10, labelRow: 16},
  {data: stilli, swing: stilliSwing, zero: 22, side: "right", ticks: ticksRight20, labelRow: 19, step: true},
  {data: felsenau, swing: felsenauSwing, zero: 26, side: "left", ticks: ticksLeft15, labelRow: 23},
  {data: laufenburg, swing: laufenburgSwing, zero: 30, side: "right", ticks: ticksRight20, labelRow: 27},
  {data: rheinfelden, swing: rheinfeldenSwing, zero: 34, side: "left", ticks: ticksLeft15, labelRow: 31},
  {data: birs, swing: birsSwing, zero: 38, side: "right", ticks: ticksLeft15, labelRow: 35},
  {data: weil, swing: weilSwing, zero: 43, side: "left", ticks: ticksLeft15, labelRow: 40}
];
stations.forEach((s, i) => s.name = stationNames[i]);

// ---------- drawing ----------
const svg = d3.select("#c");
const X0 = 46.7, X1 = 1296.7, TOP = 8, BOTTOM = 1638;
const x = d3.scaleLinear().domain([0, 365]).range([X0, X1]);
const row = d3.scaleLinear().domain([0, 43]).range([46.8, 1574.6]);
const monthStart = Array.from(d3.cumsum([0, ...monthDays.slice(0, 11)]));

// dotted day lines
const dotted = svg.append("g").attr("stroke", "#000").attr("stroke-width", 1).attr("stroke-dasharray", "3,6");
monthStart.forEach(ms => dayTicks.forEach(d => {
  const xx = Math.round(x(ms + d)) + 0.5;
  dotted.append("line").attr("x1", xx).attr("x2", xx).attr("y1", row(0) + 3).attr("y2", row(43));
}));

// horizontal grid lines
const grid = svg.append("g").attr("stroke", "#222");
d3.range(0, 44).forEach(k => {
  grid.append("line").attr("x1", k === 0 ? X0 : 43).attr("x2", 1300)
    .attr("y1", row(k)).attr("y2", row(k))
    .attr("stroke-width", k === 43 ? 2.2 : (k === 0 ? 1.6 : 1.3));
});

// month lines and frame
const frame = svg.append("g").attr("stroke", "#000");
monthStart.slice(1).forEach(ms => {
  frame.append("line").attr("x1", x(ms)).attr("x2", x(ms)).attr("y1", TOP).attr("y2", BOTTOM).attr("stroke-width", 1.5);
});
frame.append("line").attr("x1", X0).attr("x2", X0).attr("y1", TOP - 1).attr("y2", BOTTOM).attr("stroke-width", 2.4);
frame.append("line").attr("x1", X1).attr("x2", X1).attr("y1", TOP - 1).attr("y2", BOTTOM).attr("stroke-width", 2);
frame.append("line").attr("x1", X0).attr("x2", X1).attr("y1", TOP).attr("y2", TOP).attr("stroke-width", 2.4);

// month labels (top and bottom)
const mLab = svg.append("g").attr("font-size", 13.5).attr("text-anchor", "middle");
monthStart.forEach((ms, m) => {
  const cx = x(ms + monthDays[m] / 2);
  mLab.append("text").attr("x", cx).attr("y", 26).text(monthNamesTop[m]);
  mLab.append("text").attr("x", cx).attr("y", 40.5).text(monthNamesIt[m]);
  mLab.append("text").attr("x", cx).attr("y", 1620).text(monthNamesTop[m]);
  mLab.append("text").attr("x", cx).attr("y", 1635).text(monthNamesIt[m]);
});
// day-of-month labels
const dLab = svg.append("g").attr("font-size", 10.5).attr("text-anchor", "middle");
monthStart.forEach(ms => dayTicks.forEach(d => {
  dLab.append("text").attr("x", x(ms + d)).attr("y", 1598.5).text(d);
}));

// unit labels
const uLab = svg.append("g").attr("font-size", 16);
uLab.append("text").attr("x", 16).attr("y", 24).text(unitLabel);
uLab.append("text").attr("x", 1306).attr("y", 24).text(unitLabel);
uLab.append("text").attr("x", 16).attr("y", 1618).text(unitLabel);
uLab.append("text").attr("x", 1308).attr("y", 1619).text(unitLabel);

// stations
stations.forEach(s => {
  const y = d3.scaleLinear().domain([0, 5]).range([row(s.zero), row(s.zero - 1)]);
  const axis = (s.side === "left" ? d3.axisLeft(y) : d3.axisRight(y))
    .tickValues(s.ticks).tickSize(0).tickPadding(s.side === "left" ? 7 : 11).tickFormat(d3.format("d"));
  const g = svg.append("g").attr("transform", `translate(${s.side === "left" ? X0 : X1},0)`).call(axis);
  g.select(".domain").remove();
  g.attr("font-size", 15).attr("font-family", '"Liberation Sans",Arial,sans-serif');
  g.selectAll("text").attr("fill", "#000");

  const pts = [];
  s.data.forEach((month, m) => month.forEach((v, i) => {
    const d0 = monthStart[m] + i;
    const sw = s.swing[m * 2 + (i >= 15 ? 1 : 0)];
    if (s.step) pts.push([d0, v]);
    else if (sw > 0) { pts.push([d0 + 0.25, v + sw]); pts.push([d0 + 0.75, v - sw]); }
    else pts.push([d0 + 0.5, v]);
  }));
  if (s.step) pts.push([365, pts[pts.length - 1][1]]);
  const gen = d3.line().x(d => x(d[0])).y(d => y(d[1])).curve(s.step ? d3.curveStepAfter : d3.curveLinear);
  svg.append("path").attr("d", gen(pts)).attr("fill", "none").attr("stroke", "#000").attr("stroke-width", 1).attr("stroke-linejoin", "miter");

  svg.append("text").attr("font-size", 24)
    .attr("x", s.side === "left" ? 62 : 1278).attr("y", row(s.labelRow) - 8)
    .attr("text-anchor", s.side === "left" ? "start" : "end").text(s.name);
});
</script>
</body></html>
